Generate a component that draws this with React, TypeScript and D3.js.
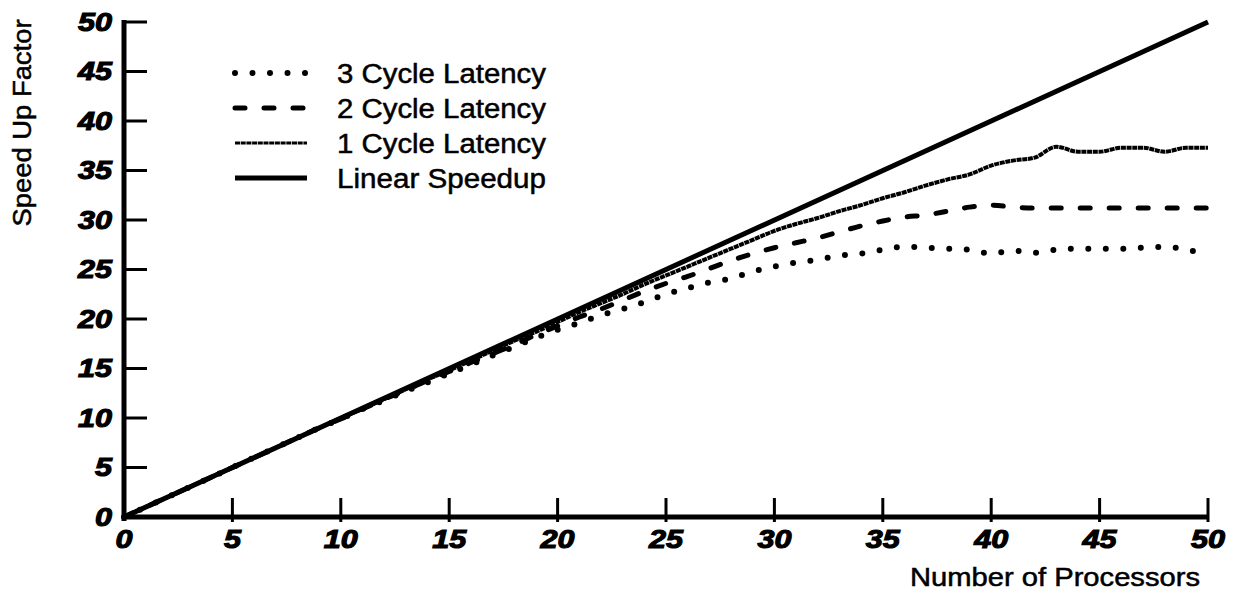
import React from 'react';
import * as d3 from 'd3';

// processors on the x axis
const processors = [
  0, 1, 2, 3, 4, 5, 6, 7, 8, 9, 10, 11, 12, 13, 14, 15, 16, 17, 18, 19, 20,
  21, 22, 23, 24, 25, 26, 27, 28, 29, 30, 31, 32, 33, 34, 35, 36, 37, 38, 39, 40,
  41, 42, 43, 44, 45, 46, 47, 48, 49, 50,
];

const cycle3 = [
  0, 1, 2, 3, 4, 5, 6, 7, 8, 9, 9.9, 10.9, 11.8, 12.7, 13.6, 14.5, 15.4, 16.3, 17.2, 18.1, 18.9,
  19.6, 20.4, 21.0, 21.7, 22.5, 23.1, 23.7, 24.1, 24.8, 25.3, 25.7, 26.0, 26.4, 26.6, 27.0, 27.3, 27.2, 27.1, 27.0, 26.6,
  26.9, 26.7, 27.0, 27.1, 27.1, 27.1, 27.2, 27.3, 27.0, 26.5,
];

const cycle2 = [
  0, 1, 2, 3, 4, 5, 6, 7, 8, 9, 9.9, 10.9, 11.9, 12.8, 13.8, 14.7, 15.6, 16.5, 17.4, 18.4, 19.3,
  20.2, 21.0, 21.9, 22.8, 23.6, 24.3, 25.1, 25.9, 26.6, 27.2, 27.7, 28.2, 28.8, 29.4, 29.9, 30.3, 30.5, 30.9, 31.3, 31.5,
  31.3, 31.2, 31.2, 31.2, 31.2, 31.2, 31.2, 31.2, 31.2, 31.2,
];

const cycle1 = [
  0, 1, 2, 3, 4, 5, 6, 7, 8, 9, 10, 10.9, 11.9, 12.9, 13.9, 14.8, 15.8, 16.8, 17.8, 18.7, 19.7,
  20.7, 21.6, 22.5, 23.5, 24.4, 25.3, 26.2, 27.1, 28.0, 28.9, 29.6, 30.2, 30.9, 31.5, 32.2, 32.8, 33.5, 34.1, 34.6, 35.5,
  36.0, 36.3, 37.4, 36.9, 36.9, 37.3, 37.3, 36.9, 37.3, 37.3,
];

const linearX = [0, 50];
const linearY = [0, 50];

const xTicks = [0, 5, 10, 15, 20, 25, 30, 35, 40, 45, 50];
const yTicks = [0, 5, 10, 15, 20, 25, 30, 35, 40, 45, 50];

const legendLabels = ['3 Cycle Latency', '2 Cycle Latency', '1 Cycle Latency', 'Linear Speedup'];

const FONT = '"Liberation Sans", Arial, Helvetica, sans-serif';

const lineStyles = [
  { width: 6, dash: '0,17.5', cap: 'round' },
  { width: 5, dash: '10,19', cap: 'round' },
  { width: 4, dash: '5,0.7', cap: 'butt' },
  { width: 5, dash: null, cap: 'butt' },
];

export default function App() {
  const x = d3.scaleLinear().domain([0, 50]).range([124, 1208]);
  const y = d3.scaleLinear().domain([0, 50]).range([517, 22]);

  const line = d3.line<[number, number]>()
    .curve(d3.curveMonotoneX)
    .x((d) => x(d[0]))
    .y((d) => y(d[1]));

  const zip = (xs: number[], ys: number[]) => xs.map((v, i) => [v, ys[i]] as [number, number]);

  const series = [
    zip(processors, cycle3),
    zip(processors, cycle2),
    zip(processors, cycle1),
    zip(linearX, linearY),
  ];

  // heavy oblique numbers like the printed figure
  const tickText = { fontFamily: FONT, fontWeight: 'bold', fontStyle: 'italic', fontSize: 25,
    stroke: '#000', strokeWidth: 1.1, lengthAdjust: 'spacingAndGlyphs' } as any;
  const plainText = { fontFamily: FONT, fontSize: 26, stroke: '#000', strokeWidth: 0.5,
    lengthAdjust: 'spacingAndGlyphs' } as any;

  return (
    <svg width={1237} height={594} style={{ position: 'absolute', left: 0, top: 0, background: '#fff' }}>
      {/* axes */}
      <line x1={x(0)} x2={x(0)} y1={y(50) - 2} y2={y(0) + 4} stroke="#000" strokeWidth={5} />
      <line x1={x(0) - 2} x2={x(50)} y1={y(0)} y2={y(0)} stroke="#000" strokeWidth={5} />
      {yTicks.map((t) => (
        <g key={'y' + t}>
          {t > 0 && <line x1={x(0)} x2={x(0) + 23} y1={y(t)} y2={y(t)} stroke="#000" strokeWidth={3} />}
          <text x={112} y={y(t) + 8.5} textAnchor="end" {...tickText} textLength={String(t).length * 17}>
            {t}
          </text>
        </g>
      ))}
      {xTicks.map((t) => (
        <g key={'x' + t}>
          {t > 0 && <line x1={x(t)} x2={x(t)} y1={y(0) + 5} y2={y(0) - 19} stroke="#000" strokeWidth={3} />}
          <text x={x(t)} y={y(0) + 31} textAnchor="middle" {...tickText} textLength={String(t).length * 17}>
            {t}
          </text>
        </g>
      ))}

      {/* axis titles */}
      <text transform="translate(31,123) rotate(-90)" textAnchor="middle" {...plainText} textLength={207}>
        Speed Up Factor
      </text>
      <text x={1200} y={586} textAnchor="end" {...plainText} fontSize={25} textLength={290}>
        Number of Processors
      </text>

      {/* series */}
      {series.map((d, i) => (
        <path key={'s' + i} d={line(d) || ''} fill="none" stroke="#000"
          strokeWidth={lineStyles[i].width}
          strokeDasharray={lineStyles[i].dash || undefined}
          strokeLinecap={lineStyles[i].cap as any} />
      ))}

      {/* legend */}
      {legendLabels.map((lab, i) => {
        const ly = 73 + i * 35;
        return (
          <g key={'l' + i}>
            <line x1={235} x2={307} y1={ly} y2={ly} stroke="#000"
              strokeWidth={i === 2 ? 3 : lineStyles[i].width}
              strokeDasharray={lineStyles[i].dash || undefined}
              strokeLinecap={lineStyles[i].cap as any} />
            <text x={337} y={ly + 10} {...plainText} fontSize={27} textLength={209}>
              {lab}
            </text>
          </g>
        );
      })}
    </svg>
  );
}
